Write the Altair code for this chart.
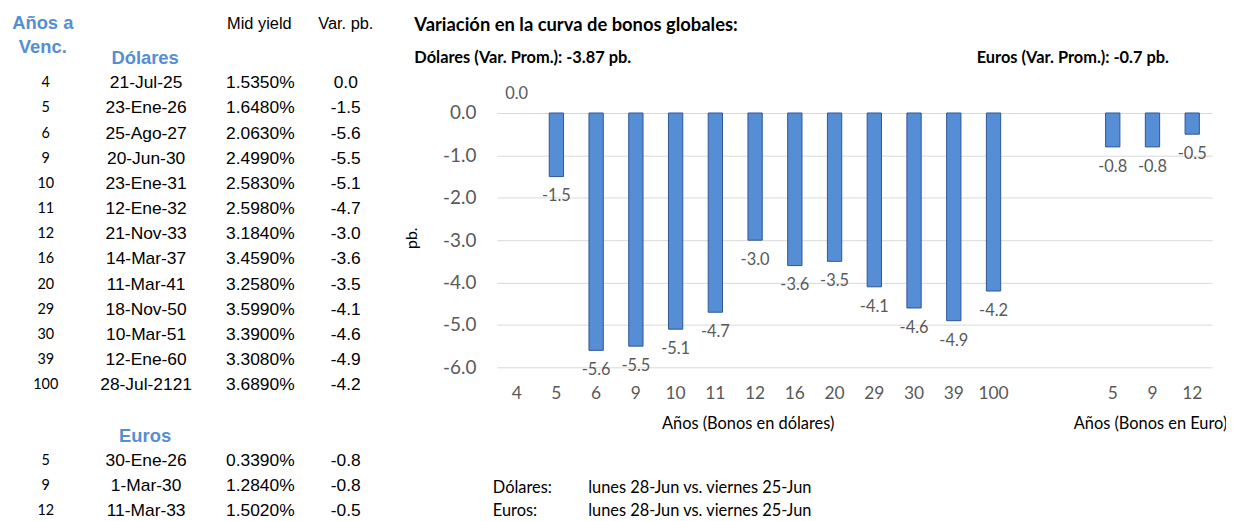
import altair as alt
import pandas as pd

# ---------------- data ----------------
years_usd = [4, 5, 6, 9, 10, 11, 12, 16, 20, 29, 30, 39, 100]
dates_usd = ["21-Jul-25", "23-Ene-26", "25-Ago-27", "20-Jun-30", "23-Ene-31", "12-Ene-32",
             "21-Nov-33", "14-Mar-37", "11-Mar-41", "18-Nov-50", "10-Mar-51", "12-Ene-60",
             "28-Jul-2121"]
yields_usd = [1.5350, 1.6480, 2.0630, 2.4990, 2.5830, 2.5980, 3.1840, 3.4590, 3.2580,
              3.5990, 3.3900, 3.3080, 3.6890]
var_usd = [0.0, -1.5, -5.6, -5.5, -5.1, -4.7, -3.0, -3.6, -3.5, -4.1, -4.6, -4.9, -4.2]

years_eur = [5, 9, 12]
dates_eur = ["30-Ene-26", "1-Mar-30", "11-Mar-33"]
yields_eur = [0.3390, 1.2840, 1.5020]
var_eur = [-0.8, -0.8, -0.5]

y_ticks = [-6, -5, -4, -3, -2, -1, 0]

# ---------------- derived tables ----------------
keys = ([f"D|{y}" for y in years_usd] + ["G1|", "G2|"] + [f"E|{y}" for y in years_eur])
bars = pd.DataFrame({
    "key": [f"D|{y}" for y in years_usd] + [f"E|{y}" for y in years_eur],
    "value": var_usd + var_eur,
})
bars["lbl"] = [f"{v:.1f}" for v in bars["value"]]

usd_rows = list(range(len(years_usd)))
eur_rows = [15 + i for i in range(len(years_eur))]
table = pd.DataFrame({
    "row": usd_rows + eur_rows,
    "yr": [str(y) for y in years_usd + years_eur],
    "date": dates_usd + dates_eur,
    "yld": [f"{v:.4f}%" for v in yields_usd + yields_eur],
    "var": [f"{v:.1f}" for v in var_usd + var_eur],
})

CF = "Lato"
TF = "Liberation Sans"
GRAY = "#595959"
BLUE = "#558ed5"

xenc = alt.X("key:N", scale=alt.Scale(domain=keys, paddingInner=0.64, paddingOuter=0.32),
             axis=alt.Axis(labelExpr="split(datum.label, '|')[1]", labelAngle=0, domain=False,
                           ticks=False, tickSize=0, labelPadding=26, labelBaseline="middle",
                           labelFont=CF, labelFontSize=17.5, labelColor=GRAY, title=None,
                           grid=False))
yenc = alt.Y("value:Q", scale=alt.Scale(domain=[-6, 0], nice=False),
             axis=alt.Axis(values=y_ticks, domain=False, ticks=False, tickSize=0,
                           labelPadding=21, labelFont=CF, labelFontSize=19, labelColor=GRAY,
                           labelExpr="(datum.value < 0 ? '-' : '') + format(abs(datum.value), '.1f')",
                           gridColor="#d9d9d9", gridWidth=1, title=None))

base = alt.Chart(bars)
bar_layer = base.transform_filter("datum.value != 0").mark_bar(
    color=BLUE, stroke="#2f5597", strokeWidth=1).encode(x=xenc, y=yenc)
neg_lbl = base.transform_filter("datum.value < 0").mark_text(
    dy=20, baseline="middle", font=CF, fontSize=16.5, color=GRAY).encode(
    x="key:N", y="value:Q", text="lbl:N")
zero_lbl = base.transform_filter("datum.value >= 0").mark_text(
    dy=-19, baseline="middle", font=CF, fontSize=16.5, color=GRAY).encode(
    x="key:N", y="value:Q", text="lbl:N")
plot = alt.layer(bar_layer, neg_lbl, zero_lbl)

# table cells
tbase = alt.Chart(table)
ty = alt.Y("row:Q", scale=alt.Scale(domain=[0, 17], range=[-30, 401]), axis=None)
tcols = []
for field, xpos, font, size in [("yr", -454, CF, 14.5), ("date", -353, TF, 17.5),
                                ("yld", -238, TF, 17.5), ("var", -152, TF, 17.5)]:
    tcols.append(tbase.mark_text(align="center", baseline="middle", font=font,
                                 fontSize=size, color="black").encode(
        x=alt.value(xpos), y=ty, text=f"{field}:N"))
table_layer = alt.layer(*tcols)


def label(text, x, y, size, weight="normal", color="black", align="left", font=CF, angle=None):
    kw = dict(text=text, align=align, baseline="middle", fontSize=size, fontWeight=weight,
              color=color, font=font)
    if angle is not None:
        kw["angle"] = angle
    return alt.Chart(alt.Data(values=[{}])).mark_text(**kw).encode(
        x=alt.value(x), y=alt.value(y))


texts = [
    label("Años a", -457, -91, 18.5, "bold", BLUE, "center", TF),
    label("Venc.", -457, -66, 18.5, "bold", BLUE, "center", TF),
    label("Dólares", -354, -55, 18.5, "bold", BLUE, "center", TF),
    label("Euros", -354, 325, 18.5, "bold", BLUE, "center", TF),
    label("Mid yield", -239, -90, 16.5, "normal", "black", "center", TF),
    label("Var. pb.", -152, -90, 16.5, "normal", "black", "center", TF),
    label("Variación en la curva de bonos globales:", -83, -89, 18.5, "bold"),
    label("Dólares (Var. Prom.): -3.87 pb.", -83, -55, 16.5, "bold"),
    label("Euros (Var. Prom.): -0.7 pb.", 483, -55, 16.5, "bold"),
    label("pb.", -85, 126, 16, "normal", "black", "center", CF, 270),
    label("Años (Bonos en dólares)", 253, 313, 16.5, "normal", "black", "center"),
    label("Años (Bonos en Euro)", 658, 313, 16.5, "normal", "black", "center"),
    label("Dólares:", -4, 377, 16.5),
    label("lunes 28-Jun vs. viernes 25-Jun", 92, 377, 16.5),
    label("Euros:", -4, 401, 16.5),
    label("lunes 28-Jun vs. viernes 25-Jun", 92, 401, 16.5),
]

chart = alt.layer(plot, table_layer, *texts).resolve_scale(y="independent").properties(
    width=720, height=256,
    autosize=alt.AutoSizeParams(type="none"),
    padding={"left": 492, "top": 104, "right": 14, "bottom": 153},
).configure_view(strokeWidth=0)

chart.save("out.html", embed_options={"renderer": "svg", "actions": False})
